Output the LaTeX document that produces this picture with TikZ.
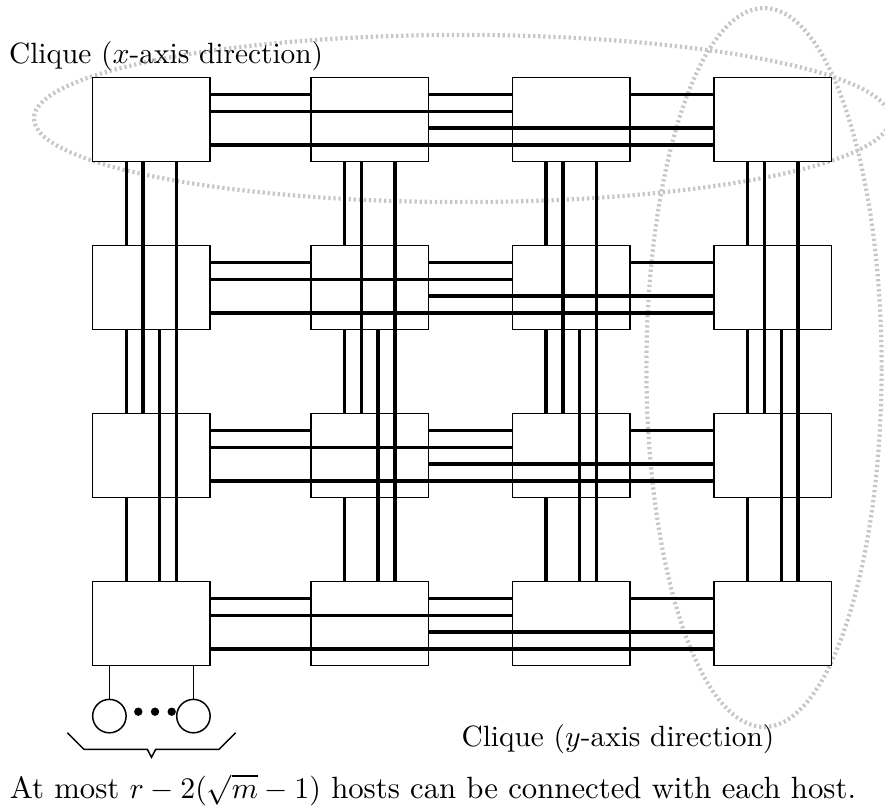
\documentclass[tikz,border=0pt]{standalone}
\usetikzlibrary{calc}
\begin{document}
\begin{tikzpicture}[x=0.335pt,y=-0.335pt,
  sw/.style={draw,line width=0.5pt,fill=white,minimum width=39.4pt,minimum height=28.14pt,inner sep=0pt,outer sep=0pt},
  link/.style={line width=1.1pt},
  clique/.style={draw=gray!45,line width=1.4pt,dash pattern=on 0.75pt off 0.95pt},
  host/.style={draw,circle,line width=0.5pt,minimum size=11.2pt,inner sep=0pt,outer sep=0pt},
  dotn/.style={fill,circle,minimum size=2.8pt,inner sep=0pt},
  wire/.style={line width=0.5pt},
  lbl/.style={inner sep=0pt,font=\fontsize{9.83pt}{12pt}\selectfont},
  lblb/.style={inner sep=0pt,font=\fontsize{10.3pt}{12pt}\selectfont}]
\useasboundingbox (0,0) rectangle (885,810);
\clip (0,0) rectangle (885,810);
% cliques
\draw[clique] (462,118.5) ellipse [x radius=143.4pt, y radius=28pt];
\draw[clique] (764,367.5) ellipse [x radius=39.4pt, y radius=120.4pt];
% switches
\foreach \r/\y in {1/119.7,2/287.7,3/455.7,4/623.7}{
  \foreach \c/\x in {1/151.4,2/369.7,3/571.3,4/772.9}{
    \node[sw] (s-\r-\c) at (\x,\y) {};
  }
}
% x-direction cliques
\foreach \r in {1,...,4}{
  \draw[link] ([yshift=-5.628pt]s-\r-1.north east) -- ([yshift=-5.628pt]s-\r-2.north west);
  \draw[link] ([yshift=-11.256pt]s-\r-1.north east) -- ([yshift=-11.256pt]s-\r-3.north west);
  \draw[link] ([yshift=-22.512pt]s-\r-1.north east) -- ([yshift=-22.512pt]s-\r-4.north west);
  \draw[link] ([yshift=-5.628pt]s-\r-2.north east) -- ([yshift=-5.628pt]s-\r-3.north west);
  \draw[link] ([yshift=-16.884pt]s-\r-2.north east) -- ([yshift=-16.884pt]s-\r-4.north west);
  \draw[link] ([yshift=-5.628pt]s-\r-3.north east) -- ([yshift=-5.628pt]s-\r-4.north west);
}
% y-direction cliques
\foreach \c in {1,...,4}{
  \draw[link] ([xshift=11.256pt]s-1-\c.south west) -- ([xshift=11.256pt]s-2-\c.north west);
  \draw[link] ([xshift=16.884pt]s-1-\c.south west) -- ([xshift=16.884pt]s-3-\c.north west);
  \draw[link] ([xshift=28.14pt]s-1-\c.south west) -- ([xshift=28.14pt]s-4-\c.north west);
  \draw[link] ([xshift=11.256pt]s-2-\c.south west) -- ([xshift=11.256pt]s-3-\c.north west);
  \draw[link] ([xshift=22.512pt]s-2-\c.south west) -- ([xshift=22.512pt]s-4-\c.north west);
  \draw[link] ([xshift=11.256pt]s-3-\c.south west) -- ([xshift=11.256pt]s-4-\c.north west);
}
% hosts
\node[host] (h1) at ([xshift=5.628pt,yshift=-16.884pt]s-4-1.south west) {};
\node[host] (h2) at ([xshift=-5.628pt,yshift=-16.884pt]s-4-1.south east) {};
\draw[wire] (h1.north |- s-4-1.south) -- (h1.north);
\draw[wire] (h2.north |- s-4-1.south) -- (h2.north);
\node[dotn] (d1) at (138.3,711.7) {};
\node[dotn] (d2) at (155,711.7) {};
\node[dotn] (d3) at (171.7,711.7) {};
% brace
\draw[wire] (67.3,732.7) -- (84,749.3) -- (147.3,749.3) -- (151.5,757.3) -- (155.7,749.3) -- (219,749.3) -- (235.7,732.7);
% labels
\node[lbl,anchor=base west] (tx) at (8.5,63.3) {Clique ($x$-axis direction)};
\node[lbl,anchor=base west] (ty) at (461,746.5) {Clique ($y$-axis direction)};
\node[lblb,anchor=base] (tb) at (433,798) {At most $r-2(\sqrt{m}-1)$ hosts can be connected with each host.};
\end{tikzpicture}
\end{document}
